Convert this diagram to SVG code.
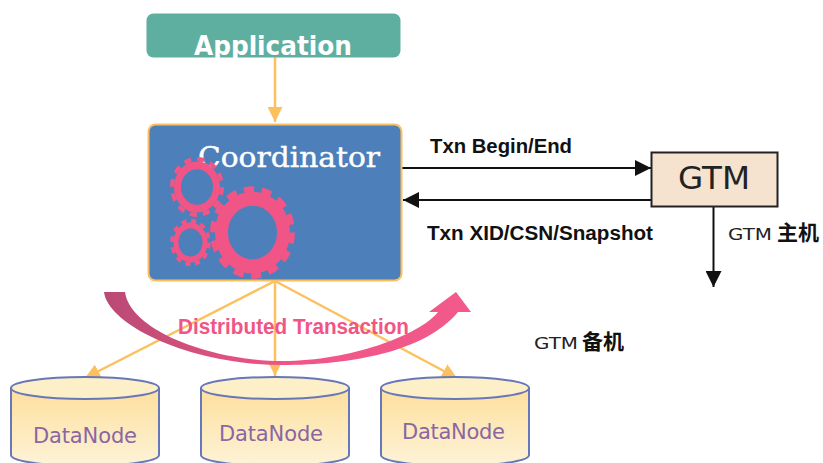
<svg xmlns="http://www.w3.org/2000/svg" width="823" height="463" viewBox="0 0 823 463">
<style>
.o{fill:none;stroke:#fdc05f;stroke-width:2.500}
.k{fill:none;stroke:#111;stroke-width:2}
.dn{font:21px "DejaVu Sans","Noto Sans",sans-serif;fill:#8a66a3}
.lb{font:bold 20px "Liberation Sans",sans-serif;fill:#111}
.cn{font:16px "DejaVu Sans","Noto Sans CJK SC",sans-serif;fill:#222}
.cj{font:bold 21px "Noto Sans CJK SC",sans-serif;fill:#111}
.cy{fill:url(#cyl);stroke:#6777b8;stroke-width:2}
.cyt{fill:#fdefc7;stroke:#6777b8;stroke-width:2}
.gear{fill:none;stroke:#f05586}
</style>
<defs>
<marker id="ao" markerUnits="userSpaceOnUse" markerWidth="15" markerHeight="15" refX="15" refY="7.500" orient="auto"><path d="M0 0L15 7.500L0 15Z" fill="#fdc05f"/></marker>
<marker id="ak" markerUnits="userSpaceOnUse" markerWidth="16" markerHeight="16" refX="16" refY="8" orient="auto"><path d="M0 0L16 8L0 16Z" fill="#111"/></marker>
<linearGradient id="cyl" x1="0" y1="0" x2="0" y2="1"><stop offset="0" stop-color="#fddf9c"/><stop offset="1" stop-color="#fdf3d8"/></linearGradient>
<linearGradient id="sw" gradientUnits="userSpaceOnUse" x1="104" y1="0" x2="471" y2="0"><stop offset="0" stop-color="#b84a74"/><stop offset="0.5" stop-color="#f05586"/><stop offset="1" stop-color="#f25a8c"/></linearGradient>
</defs>

<g id="connectors">
<path class="o" d="M275 57V122" marker-end="url(#ao)"/>
<path class="o" d="M275 281L85 378" marker-end="url(#ao)"/>
<path class="o" d="M275 281V376" marker-end="url(#ao)"/>
<path class="o" d="M275 281L457 378" marker-end="url(#ao)"/>
<path class="k" d="M402 168H651" marker-end="url(#ak)"/>
<path class="k" d="M651 200H403" marker-end="url(#ak)"/>
<path class="k" d="M713.500 207V287" marker-end="url(#ak)"/>
</g>

<g id="application">
<rect x="146.500" y="13.500" width="254" height="44" rx="7" fill="#5fafa1"/>
<text x="194" y="55" textLength="158" lengthAdjust="spacingAndGlyphs" style="font:bold 26px 'DejaVu Sans',sans-serif" fill="#fff">Application</text>
</g>

<g id="coordinator">
<rect x="148.500" y="124.500" width="253" height="156" rx="7" fill="#4d7fba" stroke="#fdc05f" stroke-width="2"/>
<text x="198" y="167" textLength="182" lengthAdjust="spacingAndGlyphs" style="font:27px 'DejaVu Serif',serif" fill="#fff" stroke="#fff" stroke-width="0.400">Coordinator</text>
<g id="gears">
<g transform="translate(252.500 232.500) scale(1 1.090)">
<circle class="gear" r="31" stroke-width="13"/>
<circle class="gear" r="39.250" stroke-width="6.500" stroke-dasharray="10 7.620"/>
</g>
<g transform="translate(197 187) scale(1 1.110)">
<circle class="gear" r="19.500" stroke-width="7"/>
<circle class="gear" r="25" stroke-width="4" stroke-dasharray="7 6.090"/>
</g>
<g transform="translate(190.500 242.500) scale(1 1.170)">
<circle class="gear" r="14.500" stroke-width="5"/>
<circle class="gear" r="18.500" stroke-width="3.500" stroke-dasharray="5 4.690"/>
</g>
</g>
</g>

<g id="gtm">
<rect x="651.500" y="152.500" width="126" height="54" fill="#f5e3d0" stroke="#222" stroke-width="2"/>
<text x="678" y="189" textLength="72" lengthAdjust="spacingAndGlyphs" style="font:32px 'DejaVu Sans',sans-serif" fill="#222">GTM</text>
</g>

<g id="datanode1">
<path class="cy" d="M11 388V455A74 11 0 0 0 159 455V388"/>
<ellipse class="cyt" cx="85" cy="388" rx="74" ry="11"/>
<text class="dn" x="33" y="443" textLength="104">DataNode</text>
</g>
<g id="datanode2">
<path class="cy" d="M201 388V455A74 11 0 0 0 349 455V388"/>
<ellipse class="cyt" cx="275" cy="388" rx="74" ry="11"/>
<text class="dn" x="219" y="441" textLength="104">DataNode</text>
</g>
<g id="datanode3">
<path class="cy" d="M381 388V455A74 11 0 0 0 529 455V388"/>
<ellipse class="cyt" cx="455" cy="388" rx="74" ry="11"/>
<text class="dn" x="402" y="439" textLength="103">DataNode</text>
</g>

<g id="distributed-transaction">
<path fill="url(#sw)" d="M104 292C108 325 190 365 283 365C350 365 425 352 458 312H471L456 292L429 312H438C420 335 350 361 283 361C210 361 130 330 125 292Z"/>
<text x="178" y="334" textLength="231" lengthAdjust="spacingAndGlyphs" style="font:bold 22px 'Liberation Sans',sans-serif" fill="#f05586">Distributed Transaction</text>
</g>

<g id="labels">
<text class="lb" x="430" y="153" textLength="142" lengthAdjust="spacingAndGlyphs">Txn Begin/End</text>
<text class="lb" x="427" y="240" textLength="226" lengthAdjust="spacingAndGlyphs">Txn XID/CSN/Snapshot</text>
<text class="cn" x="728" y="240" textLength="44" lengthAdjust="spacingAndGlyphs">GTM</text>
<text class="cj" x="777" y="240">主机</text>
<text class="cn" x="534" y="349" textLength="44" lengthAdjust="spacingAndGlyphs">GTM</text>
<text class="cj" x="582" y="349">备机</text>
</g>
</svg>
